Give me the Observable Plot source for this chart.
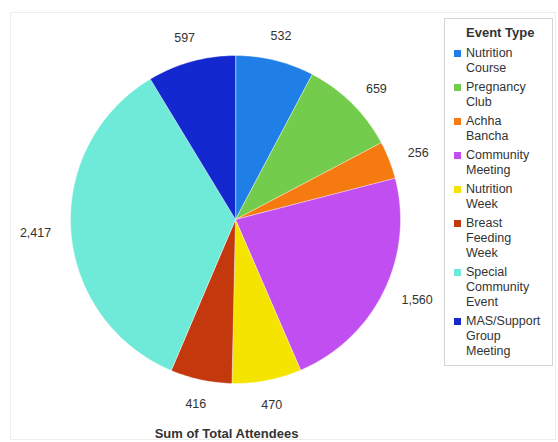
<!DOCTYPE html>
<html>
<head>
<meta charset="utf-8">
<script src="https://cdn.jsdelivr.net/npm/d3@7"></script>
<script src="https://cdn.jsdelivr.net/npm/@observablehq/plot@0.6"></script>
<style>
  html, body { margin: 0; padding: 0; background: #fff; }
  #wrap { position: relative; width: 558px; height: 442px; font-family: "Liberation Sans", Arial, sans-serif; color: #333; }
  #frame { position: absolute; left: 10px; top: 12px; width: 546px; height: 428px; border: 1px solid #ededed; box-sizing: border-box; }
  #chart { position: absolute; left: 0; top: 0; }
  #legend { position: absolute; left: 444px; top: 18px; width: 109px; height: 348px; border: 1px solid #d4d4d4; box-sizing: border-box; background: #fff; }
  #legend .title { position: absolute; left: 21px; top: 6px; font-weight: bold; font-size: 13px; line-height: 15px; color: #333; }
  #legend .items { position: absolute; left: 9px; top: 27px; }
  #legend .item { display: flex; align-items: flex-start; margin-bottom: 4px; }
  #legend .sw { width: 7px; height: 7px; margin-top: 4px; margin-right: 5px; flex: none; }
  #legend .lab { width: 72px; font-size: 12.5px; line-height: 15px; color: #333; }
</style>
</head>
<body>
<div id="wrap">
  <div id="frame"></div>
  <div id="chart"></div>
  <div id="legend"><div class="title"></div><div class="items"></div></div>
</div>
<script>
// ---- data ----
const categories = ["Nutrition Course", "Pregnancy Club", "Achha Bancha", "Community Meeting", "Nutrition Week", "Breast Feeding Week", "Special Community Event", "MAS/Support Group Meeting"];
const attendees = [532, 659, 256, 1560, 470, 416, 2417, 597];
const colors = ["#1f7fe6", "#74cc4c", "#f57a10", "#c04ef0", "#f4e400", "#c4380e", "#70ead8", "#1428d0"];
const legendTitle = "Event Type";
const caption = "Sum of Total Attendees";

// ---- build tables ----
const rows = categories.map((c, i) => ({category: c, value: attendees[i]}));
const arcs = d3.pie().sort(null).value(d => d.value)(rows);

const poly = [];
for (const a of arcs) {
  const c = a.data.category;
  poly.push({category: c, x: 0, y: 0});
  const n = Math.max(2, Math.ceil((a.endAngle - a.startAngle) / (Math.PI / 180)));
  for (let k = 0; k <= n; k++) {
    const t = a.startAngle + (a.endAngle - a.startAngle) * k / n;
    poly.push({category: c, x: Math.sin(t), y: Math.cos(t)});
  }
}

const fmt = d3.format(",");
const labels = arcs.map(a => {
  const m = (a.startAngle + a.endAngle) / 2;
  const s = Math.sin(m);
  const anchor = s > 0.3 ? "start" : s < -0.3 ? "end" : "middle";
  const r = anchor === "middle" ? 1.15 : 1.12;
  return {label: fmt(a.data.value), x: r * s, y: r * Math.cos(m), anchor};
});

const textOpts = {x: "x", y: "y", text: "label", fontSize: 12.5, fill: "#333"};

const chart = Plot.plot({
  width: 558,
  height: 442,
  marginLeft: 70,
  marginRight: 158,
  marginTop: 55,
  marginBottom: 59,
  style: {fontFamily: "'Liberation Sans', Arial, sans-serif", background: "transparent"},
  x: {domain: [-1, 1], axis: null},
  y: {domain: [-1, 1], axis: null},
  color: {domain: categories, range: colors},
  marks: [
    Plot.line(poly, {x: "x", y: "y", z: "category", fill: "category", stroke: "white", strokeWidth: 0.6, strokeOpacity: 0.7, curve: "linear-closed"}),
    Plot.text(labels.filter(d => d.anchor === "start"), {...textOpts, textAnchor: "start"}),
    Plot.text(labels.filter(d => d.anchor === "end"), {...textOpts, textAnchor: "end"}),
    Plot.text(labels.filter(d => d.anchor === "middle"), {...textOpts, textAnchor: "middle"}),
    Plot.text([caption], {frameAnchor: "bottom", dy: 50, dx: -9, lineAnchor: "middle", fontWeight: "bold", fontSize: 13, fill: "#333"})
  ]
});
document.getElementById("chart").appendChild(chart);

// ---- legend ----
document.querySelector("#legend .title").textContent = legendTitle;
const items = document.querySelector("#legend .items");
categories.forEach((c, i) => {
  const it = document.createElement("div");
  it.className = "item";
  const sw = document.createElement("div");
  sw.className = "sw";
  sw.style.background = colors[i];
  const lab = document.createElement("div");
  lab.className = "lab";
  lab.textContent = c;
  it.appendChild(sw);
  it.appendChild(lab);
  items.appendChild(it);
});
</script>
</body>
</html>
